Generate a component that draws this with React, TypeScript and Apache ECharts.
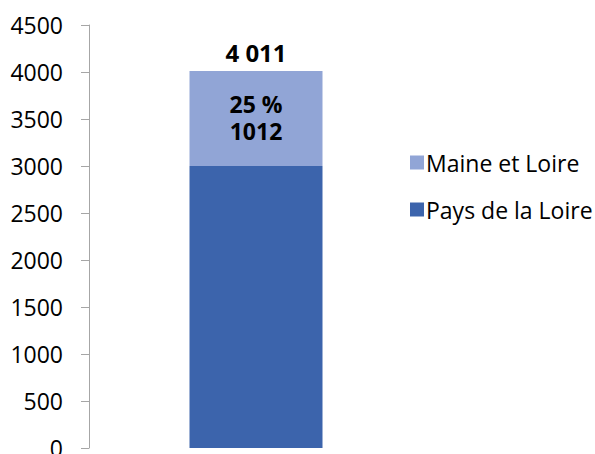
import React, { useEffect, useRef } from "react";
import * as echarts from "echarts";

const categories = ["Total"];
const paysValues = [2999];
const maineValues = [1012];
const totalValues = [4011];
const yTicks = [0, 500, 1000, 1500, 2000, 2500, 3000, 3500, 4000, 4500];

const FONT = "'Open Sans', 'Noto Sans', sans-serif";

export default function App() {
  const ref = useRef<HTMLDivElement>(null);
  useEffect(() => {
    if (!ref.current) return;
    const chart = echarts.init(ref.current, null, { renderer: "svg" });
    const fmtTotal = (v: number) => {
      const s = String(v);
      return s.replace(/\B(?=(\d{3})+(?!\d))/g, " ");
    };
    chart.setOption({
      animation: false,
      grid: { left: 89, top: 25, bottom: 6, right: 172, containLabel: false, outerBoundsMode: "none" },
      legend: {
        data: ["Maine et Loire", "Pays de la Loire"],
        orient: "vertical",
        left: 405,
        top: 146,
        itemWidth: 14,
        itemHeight: 14,
        itemGap: 24,
        textStyle: { fontFamily: FONT, fontSize: 23, lineHeight: 23, color: "#000", padding: [0, 0, 0, -3] },
        icon: "rect",
      },
      xAxis: {
        type: "category",
        data: categories,
        axisLine: { show: false },
        axisTick: { show: false },
        axisLabel: { show: false },
      },
      yAxis: {
        type: "value",
        min: yTicks[0],
        max: yTicks[yTicks.length - 1],
        interval: 500,
        splitLine: { show: false },
        axisLine: { show: true, lineStyle: { color: "#A6A6A6", width: 1 } },
        axisTick: { show: true, length: 8, lineStyle: { color: "#A6A6A6" } },
        axisLabel: {
          margin: 26,
          fontFamily: FONT,
          fontSize: 23,
          color: "#000",
          formatter: (v: number) => String(v),
        },
      },
      series: [
        {
          name: "Pays de la Loire",
          type: "bar",
          stack: "s",
          data: paysValues,
          barWidth: 133,
          itemStyle: { color: "#3C64AC" },
        },
        {
          name: "Maine et Loire",
          type: "bar",
          stack: "s",
          data: maineValues,
          barWidth: 133,
          itemStyle: { color: "#91A5D6" },
          label: {
            show: true,
            position: "insideTop",
            distance: 20,
            fontFamily: FONT,
            fontSize: 23,
            fontWeight: "bold",
            color: "#000",
            lineHeight: 27,
            formatter: (p: any) => {
              const pct = Math.round((maineValues[p.dataIndex] / totalValues[p.dataIndex]) * 100);
              return pct + " %\n" + p.value;
            },
          },
        },
        {
          name: "Total",
          type: "bar",
          stack: "s",
          data: totalValues.map(() => 0),
          barWidth: 133,
          itemStyle: { color: "transparent" },
          label: {
            show: true,
            position: "top",
            distance: 6,
            fontFamily: FONT,
            fontSize: 24,
            fontWeight: "bold",
            color: "#000",
            formatter: (p: any) => fmtTotal(totalValues[p.dataIndex]),
          },
        },
      ],
    });
    return () => chart.dispose();
  }, []);
  return <div ref={ref} style={{ width: 595, height: 454, position: "absolute", left: 0, top: 0 }} />;
}
